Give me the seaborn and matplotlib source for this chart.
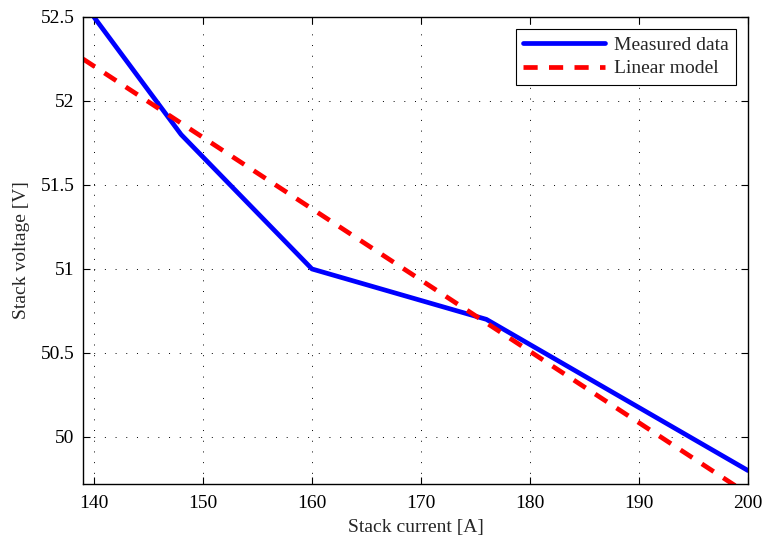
import matplotlib
matplotlib.use("Agg")
import matplotlib.pyplot as plt
import seaborn as sns
import pandas as pd

measured_current = [140, 148, 160, 176, 200]
measured_voltage = [52.5, 51.8, 51.0, 50.7, 49.8]
model_current = [139, 200]
model_voltage = [52.25, 49.66]

sns.set_theme(style="ticks")
plt.rcParams['font.family'] = ['Liberation Serif', 'DejaVu Serif']
plt.rcParams['mathtext.fontset'] = 'stix'

fig = plt.figure(figsize=(7.66, 5.43), dpi=100)
ax = fig.add_axes([0.1084, 0.1087, 0.8681, 0.8600])

df_m = pd.DataFrame({"I": measured_current, "V": measured_voltage})
df_l = pd.DataFrame({"I": model_current, "V": model_voltage})

sns.lineplot(data=df_m, x="I", y="V", ax=ax, color="#0000ff", lw=3.4,
             label="Measured data", sort=False)
sns.lineplot(data=df_l, x="I", y="V", ax=ax, color="#ff0000", lw=3.4,
             label="Linear model", sort=False, dashes=False)
ax.lines[1].set_linestyle((0, (3, 2.4)))

ax.set_xlim(139, 200)
ax.set_ylim(49.72, 52.5)
ax.set_xticks([140, 150, 160, 170, 180, 190, 200])
ax.set_yticks([50, 50.5, 51, 51.5, 52, 52.5])
ax.set_yticklabels(["50", "50.5", "51", "51.5", "52", "52.5"])
ax.grid(True, color="black", linestyle=(0, (1, 10)), linewidth=0.7)
ax.tick_params(direction="in", top=True, right=True, labelsize=14, length=5, width=0.8, colors="black")
ax.tick_params(axis="x", pad=8)
ax.tick_params(axis="y", pad=6)
for s in ax.spines.values():
    s.set_linewidth(1.0)
    s.set_color("black")
ax.set_xlabel("Stack current [A]", fontsize=14, labelpad=5)
ax.set_ylabel("Stack voltage [V]", fontsize=14, labelpad=8)

leg = ax.legend(loc="upper right", fontsize=14, frameon=True, fancybox=False,
                edgecolor="black", framealpha=1, handlelength=4.2, borderaxespad=0.6,
                borderpad=0.4, labelspacing=0.3, handletextpad=0.45)
leg.get_frame().set_linewidth(0.8)
for h in leg.get_lines():
    h.set_linewidth(3.4)

fig.savefig("out.png", dpi=100)
